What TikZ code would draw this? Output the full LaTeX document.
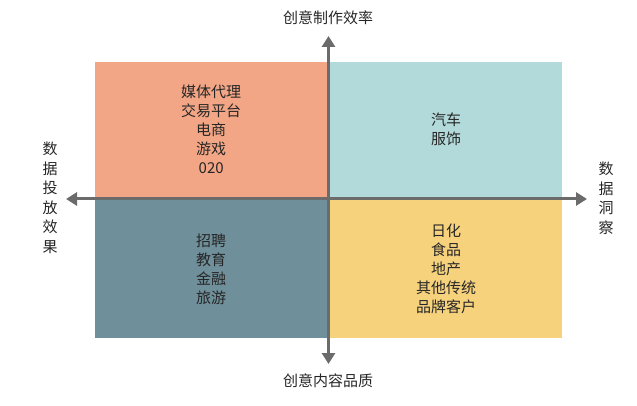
\documentclass[tikz,border=0pt]{standalone}
\usepackage{fontspec}
\setmainfont{Noto Sans CJK SC}
\usetikzlibrary{arrows.meta}
\definecolor{qa}{HTML}{F2A686}
\definecolor{qb}{HTML}{B3DADB}
\definecolor{qc}{HTML}{6F8F9A}
\definecolor{qd}{HTML}{F6D27D}
\definecolor{ax}{HTML}{6B6B6B}
\begin{document}
\begin{tikzpicture}[x=1pt,y=-1pt,
  quad/.style={draw=none,minimum width=232pt,minimum height=135pt,inner sep=0pt},
  lbl/.style={font=\fontsize{15}{19}\selectfont,align=center,text=black!85},
  axis/.style={draw=ax,line width=3pt,-{Triangle[length=11pt,width=13pt]}}]
\useasboundingbox (0,0) rectangle (637,406);
\node[quad,fill=qa,anchor=north west] (q1) at (95,62) {};
\node[quad,fill=qb,anchor=north west] (q2) at (330,62) {};
\node[quad,fill=qc,anchor=north west,minimum height=138pt] (q3) at (95,200) {};
\node[quad,fill=qd,anchor=north west,minimum height=138pt] (q4) at (330,200) {};
\node[lbl] at (q1.center) {媒体代理\\交易平台\\电商\\游戏\\020};
\node[lbl] at (q2.center) {汽车\\服饰};
\node[lbl] at (q3.center) {招聘\\教育\\金融\\旅游};
\node[lbl] at (q4.center) {日化\\食品\\地产\\其他传统\\品牌客户};
\coordinate (c) at (328.5,199);
\coordinate (l) at (66,199);
\coordinate (r) at (587,199);
\coordinate (t) at (328.5,36);
\coordinate (b) at (328.5,364);
\draw[axis] (c) -- (l);
\draw[axis] (c) -- (r);
\draw[axis] (c) -- (t);
\draw[axis] (c) -- (b);
\node[lbl] (tl) at (328,18) {创意制作效率};
\node[lbl] (bl) at (328,381) {创意内容品质};
\node[lbl,font=\fontsize{15}{19.5}\selectfont] (ll) at (50,198) {数\\据\\投\\放\\效\\果};
\node[lbl,font=\fontsize{15}{19.5}\selectfont] (rl) at (606,198) {数\\据\\洞\\察};
\end{tikzpicture}
\end{document}
